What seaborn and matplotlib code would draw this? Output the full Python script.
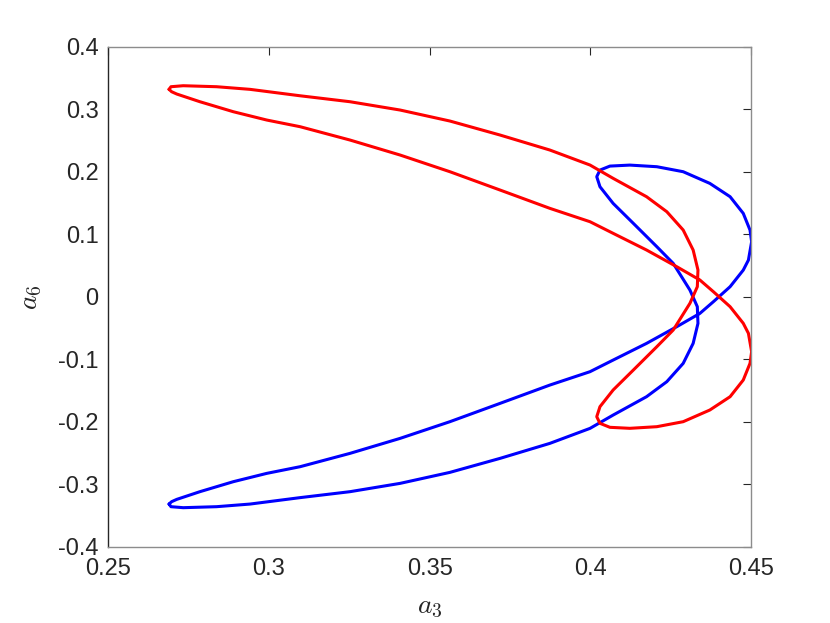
import pandas as pd
import seaborn as sns
import matplotlib.pyplot as plt

# traced points of the two closed curves (a3, a6)
red_a3 = [0.2689, 0.2695, 0.2733, 0.2837, 0.2941, 0.3097, 0.3252, 0.3408, 0.3563, 0.3719,
          0.3874, 0.3999, 0.4071, 0.4175, 0.4238, 0.4289, 0.4320, 0.4335, 0.4333, 0.4310,
          0.4258, 0.4207, 0.4134, 0.4071, 0.4030, 0.4020, 0.4030, 0.4061, 0.4123, 0.4207,
          0.4289, 0.4372, 0.4435, 0.4476, 0.4497, 0.4502, 0.4492, 0.4476, 0.4435, 0.4383,
          0.4341, 0.4269, 0.4175, 0.4071, 0.3999, 0.3874, 0.3719, 0.3563, 0.3408, 0.3252,
          0.3097, 0.2993, 0.2889, 0.2785, 0.2713, 0.2697, 0.2689]
red_a6 = [0.3318, 0.3360, 0.3376, 0.3360, 0.3318, 0.3215, 0.3120, 0.2987, 0.2811, 0.2587,
          0.2347, 0.2107, 0.1894, 0.1600, 0.1360, 0.1067, 0.0747, 0.0427, 0.0160, -0.0106,
          -0.0533, -0.0800, -0.1173, -0.1493, -0.1760, -0.1920, -0.2026, -0.2090, -0.2106, -0.2080,
          -0.2000, -0.1813, -0.1600, -0.1333, -0.1066, -0.0880, -0.0586, -0.0426, -0.0160, 0.0080,
          0.0267, 0.0480, 0.0747, 0.1014, 0.1200, 0.1414, 0.1707, 0.2000, 0.2267, 0.2507,
          0.2720, 0.2827, 0.2960, 0.3120, 0.3243, 0.3280, 0.3318]

blue_a3 = [0.2689, 0.2695, 0.2733, 0.2837, 0.2941, 0.3097, 0.3252, 0.3408, 0.3563, 0.3719,
           0.3874, 0.3999, 0.4071, 0.4175, 0.4238, 0.4289, 0.4320, 0.4335, 0.4333, 0.4310,
           0.4258, 0.4207, 0.4134, 0.4071, 0.4030, 0.4020, 0.4030, 0.4061, 0.4123, 0.4207,
           0.4289, 0.4372, 0.4435, 0.4476, 0.4497, 0.4502, 0.4492, 0.4476, 0.4435, 0.4383,
           0.4341, 0.4269, 0.4175, 0.4071, 0.3999, 0.3874, 0.3719, 0.3563, 0.3408, 0.3252,
           0.3097, 0.2993, 0.2889, 0.2785, 0.2713, 0.2697, 0.2689]
blue_a6 = [-0.3318, -0.3360, -0.3376, -0.3360, -0.3318, -0.3215, -0.3120, -0.2987, -0.2811, -0.2587,
           -0.2347, -0.2107, -0.1894, -0.1600, -0.1360, -0.1067, -0.0747, -0.0427, -0.0160, 0.0106,
           0.0533, 0.0800, 0.1173, 0.1493, 0.1760, 0.1920, 0.2026, 0.2090, 0.2106, 0.2080,
           0.2000, 0.1813, 0.1600, 0.1333, 0.1066, 0.0880, 0.0586, 0.0426, 0.0160, -0.0080,
           -0.0267, -0.0480, -0.0747, -0.1014, -0.1200, -0.1414, -0.1707, -0.2000, -0.2267, -0.2507,
           -0.2720, -0.2827, -0.2960, -0.3120, -0.3243, -0.3280, -0.3318]

x_ticks = [0.25, 0.3, 0.35, 0.4, 0.45]
x_labels = ['0.25', '0.3', '0.35', '0.4', '0.45']
y_ticks = [-0.4, -0.3, -0.2, -0.1, 0, 0.1, 0.2, 0.3, 0.4]
y_labels = ['-0.4', '-0.3', '-0.2', '-0.1', '0', '0.1', '0.2', '0.3', '0.4']

df = pd.concat([
    pd.DataFrame({'a3': blue_a3, 'a6': blue_a6, 'curve': 'blue'}),
    pd.DataFrame({'a3': red_a3, 'a6': red_a6, 'curve': 'red'}),
])

sns.set_theme(style='white')
plt.rcParams['font.family'] = ['Liberation Sans', 'DejaVu Sans']
plt.rcParams['mathtext.fontset'] = 'cm'

fig = plt.figure(figsize=(8.3, 6.23), dpi=100)
ax = fig.add_axes([0.1305, 0.1225, 0.7743, 0.8025])

sns.lineplot(data=df, x='a3', y='a6', hue='curve',
             palette={'blue': '#0000ff', 'red': '#ff0000'}, sort=False,
             estimator=None, linewidth=2.2, legend=False, ax=ax)
for line in ax.get_lines():
    line.set_solid_joinstyle('round')
    line.set_solid_capstyle('round')

ax.set_xlim(0.25, 0.45)
ax.set_ylim(-0.4, 0.4)
ax.set_xticks(x_ticks)
ax.set_xticklabels(x_labels)
ax.set_yticks(y_ticks)
ax.set_yticklabels(y_labels)
ax.tick_params(direction='in', length=6, width=0.8, colors='#262626', labelsize=17,
               top=True, right=True)
ax.tick_params(axis='x', pad=8)
ax.tick_params(axis='y', pad=7)

for side in ['top', 'right', 'bottom']:
    ax.spines[side].set_color('#8c8c8c')
ax.spines['left'].set_color('#262626')
for s in ax.spines.values():
    s.set_linewidth(1.0)

ax.set_xlabel('$a_3$', fontsize=20, color='#262626')
ax.set_ylabel('$a_6$', fontsize=20, color='#262626')
ax.xaxis.set_label_coords(0.5, -0.094)
ax.yaxis.set_label_coords(-0.1, 0.5)

fig.savefig('out.png', dpi=100, facecolor='white')
